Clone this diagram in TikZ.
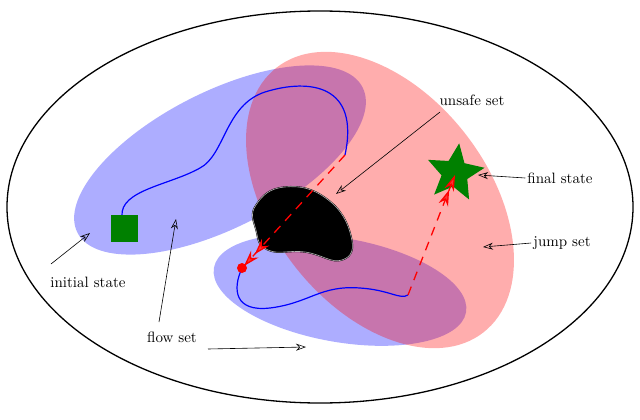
\documentclass[tikz,border=0pt]{standalone}
\usetikzlibrary{shapes.geometric,arrows.meta}
\newcommand\biglab[1]{\scalebox{1.5}{#1}}
\begin{document}
\begin{tikzpicture}[x=1pt,y=-1pt,
  lab/.style={inner sep=2pt},
  pt/.style={->,>={Stealth[open,length=10pt,width=7pt]},black,line width=0.6pt},
  jump/.style={red,dash pattern=on 9pt off 7pt,line width=1.3pt},
  flow/.style={blue,line width=1.2pt}]
\useasboundingbox (0,0) rectangle (640,420);
\draw[line width=1.3pt] (320,207) ellipse [x radius=313, y radius=196];
\fill[blue,opacity=0.32,rotate around={27:(220,160)}] (220,160) ellipse [x radius=160, y radius=68];
\fill[blue,opacity=0.32,rotate around={-10:(340,290)}] (340,290) ellipse [x radius=128, y radius=52];
\fill[red,opacity=0.32,rotate around={-52:(380,200)}] (380,200) ellipse [x radius=168, y radius=108];
\draw[flow] (122,216) .. controls (120,190) and (170,185) .. (200,168)
  .. controls (225,155) and (225,105) .. (265,92)
  .. controls (310,78) and (360,85) .. (345,155);
\draw[flow] (242,268) .. controls (232,290) and (235,312) .. (270,308)
  .. controls (310,303) and (320,285) .. (360,288)
  .. controls (390,290) and (400,300) .. (408,295);
\draw[black,fill=black,double=gray!60,double distance=0.6pt] plot[smooth cycle,tension=0.8] coordinates {(256,205) (285,187) (327,199) (351,236) (342,260) (305,252) (268,250) (256,230)};
\node[fill=green!50!black,minimum size=27pt,inner sep=0] (init) at (124,228) {};
\node[star,star points=5,star point ratio=2.2,rotate=-8,fill=green!50!black,minimum size=60pt,inner sep=0] (fin) at (455,173) {};
\coordinate (a1) at (345,155); \coordinate (a2) at (244,266);
\coordinate (b1) at (408,295); \coordinate (b2) at (455,175);
\draw[jump,-{Stealth[length=16pt,width=10pt,fill=red!80]Stealth[length=16pt,width=10pt,fill=red!80]}] (a1) -- (a2);
\fill[red] (242,268) circle (5);
\draw[jump,-{Stealth[length=16pt,width=10pt,fill=red!80]Stealth[length=16pt,width=10pt,fill=red!80]}] (b1) -- (b2);
\node[lab] (us) at (472,100) {\biglab{unsafe set}};
\node[lab] (fs) at (560,178) {\biglab{final state}};
\node[lab] (js) at (562,243) {\biglab{jump set}};
\node[lab] (is) at (88,282) {\biglab{initial state}};
\node[lab] (fl) at (172,337) {\biglab{flow set}};
\coordinate (u0) at (440,112);
\coordinate (u2) at (336,194); \coordinate (f2) at (478,175);
\coordinate (j2) at (483,247); \coordinate (i1) at (51,264); \coordinate (i2) at (90,233);
\coordinate (l1) at (159,322); \coordinate (l2) at (176,219);
\coordinate (m1) at (208,349); \coordinate (m2) at (306,347);
\draw[pt] (u0) -- (u2);
\draw[pt] (fs.west) -- (f2);
\draw[pt] (js.west) -- (j2);
\draw[pt] (i1) -- (i2);
\draw[pt] (l1) -- (l2);
\draw[pt] (m1) -- (m2);
\end{tikzpicture}
\end{document}
